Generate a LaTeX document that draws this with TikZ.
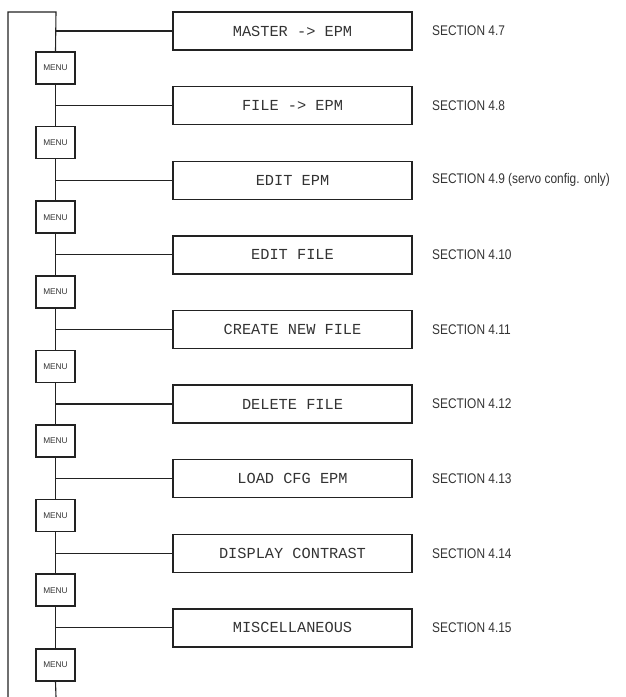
\documentclass[tikz,border=0pt]{standalone}
\usepackage{fontspec}
\newfontfamily\boxfont{Liberation Mono}
\newfontfamily\secfont[FakeStretch=0.85]{Liberation Sans}
\newfontfamily\menufont{Liberation Sans}
\definecolor{ink}{HTML}{222222}
\definecolor{txt}{HTML}{333333}
\begin{document}
\begin{tikzpicture}[x=1pt,y=-1pt,
  itembox/.style={draw=ink,line width=1.4pt,minimum width=239pt,minimum height=38pt,inner sep=0pt,font=\boxfont\fontsize{15.3}{17}\selectfont,text=txt},
  menubox/.style={draw=ink,line width=1.5pt,fill=white,minimum width=39pt,minimum height=32pt,inner sep=0pt,font=\menufont\fontsize{8.3}{9}\selectfont,text=txt},
  sectext/.style={anchor=west,inner sep=0pt,font=\secfont\fontsize{14}{16}\selectfont,text=txt},
  wire/.style={draw=ink,line width=1.1pt}]
\useasboundingbox (0,0) rectangle (625,697);
\def\p{74.6}
\coordinate (top) at (56,12);
\coordinate (tl) at (8,12);
\coordinate (bl) at (8,697);
\coordinate (bend) at (56,697);
\foreach \k/\lab/\sec in {0/{MASTER -> EPM}/{SECTION 4.7},1/{FILE -> EPM}/{SECTION 4.8},2/{EDIT EPM}/{SECTION 4.9 (servo config. only)},3/{EDIT FILE}/{SECTION 4.10},4/{CREATE NEW FILE}/{SECTION 4.11},5/{DELETE FILE}/{SECTION 4.12},6/{LOAD CFG EPM}/{SECTION 4.13},7/{DISPLAY CONTRAST}/{SECTION 4.14},8/{MISCELLANEOUS}/{SECTION 4.15}}{
  \node[itembox] (b\k) at (292.5,{31+\p*\k}) {\lab};
  \node[sectext] (s\k) at (432,{31+\p*\k}) {\sec};
  \node[menubox] (m\k) at (55.5,{68+\p*\k}) {MENU};
  \coordinate (j\k) at (56,{31+\p*\k});
}
\draw[wire] (bl) -- (tl) -- (top) -- (m0.north);
\draw[wire,line width=1.7pt] (j0) -- (b0.west);
\foreach \k in {1,...,8}{
  \pgfmathtruncatemacro{\pk}{\k-1}
  \draw[wire] (m\pk.south) -- (m\k.north);
  \draw[wire] (j\k) -- (b\k.west);
}
\draw[wire] (m8.south) -- (bend);
\end{tikzpicture}
\end{document}
